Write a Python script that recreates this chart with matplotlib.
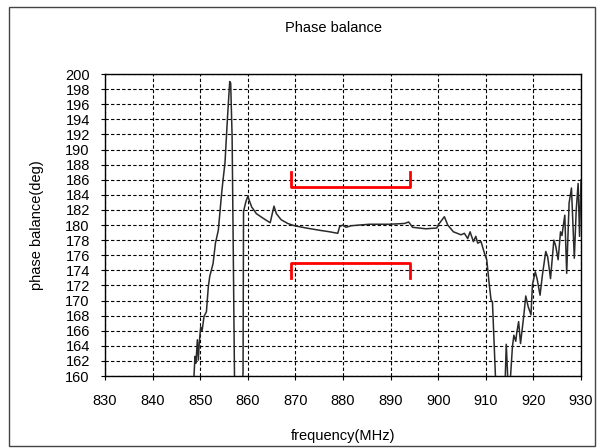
import matplotlib.pyplot as plt
from matplotlib.patches import Rectangle

plt.rcParams['font.family'] = ['Liberation Sans', 'DejaVu Sans']

freq = [848.3, 848.7, 848.9, 849.1, 849.4, 849.6, 849.8, 850.1, 850.4, 850.8,
        851.3, 851.7, 852.0, 852.7, 853.2, 853.8, 854.5, 854.8, 855.2, 855.7,
        856.0, 856.2, 856.4, 856.7, 856.9, 857.2, 857.6, 858.2, 858.8, 859.0,
        859.1, 859.6, 860.0, 860.8, 861.8, 863.2, 864.7, 865.5, 866.0, 867.0,
        868.4, 869.8, 872.3, 875.1, 877.2, 878.9, 879.3, 880.0, 880.6, 881.7,
        883.5, 885.6, 889.7, 892.9, 893.8, 894.6, 897.4, 899.7, 900.1, 901.3,
        902.0, 903.2, 904.8, 905.5, 906.2, 906.7, 907.4, 907.9, 908.3, 909.0,
        909.7, 910.2, 910.7, 911.1, 911.4, 912.0, 912.4, 912.8, 913.2, 913.6,
        914.0, 914.3, 914.7, 915.0, 915.6, 915.9, 916.3, 916.5, 916.9, 917.3,
        918.0, 918.4, 918.9, 919.5, 919.8, 920.4, 920.8, 921.4, 921.9, 922.6,
        923.0, 923.6, 924.3, 924.7, 925.2, 925.7, 926.0, 926.6, 927.0, 927.5,
        928.0, 928.6, 929.0, 929.4, 929.7, 930.0]
phase = [158.0, 160.1, 162.6, 161.7, 164.8, 162.1, 164.4, 166.5, 166.0, 167.9,
         168.5, 171.8, 173.2, 174.9, 177.6, 179.3, 184.2, 186.0, 188.2, 193.9,
         197.0, 199.0, 198.8, 191.7, 179.3, 160.0, 150.0, 150.0, 158.0, 160.5,
         181.8, 183.1, 183.8, 182.4, 181.5, 180.9, 180.3, 182.5, 181.5, 180.7,
         180.2, 179.9, 179.6, 179.3, 179.1, 178.9, 179.8, 180.0, 179.7, 179.9,
         180.0, 180.1, 180.1, 180.2, 180.4, 179.7, 179.5, 179.6, 180.1, 181.1,
         180.0, 179.1, 178.7, 178.9, 178.2, 179.1, 177.8, 178.5, 177.6, 177.8,
         176.3, 175.4, 172.3, 170.1, 169.8, 160.4, 155.0, 159.8, 155.0, 159.9,
         158.0, 164.2, 158.5, 158.0, 163.9, 165.4, 164.6, 165.7, 167.2, 164.3,
         168.1, 170.6, 169.2, 168.1, 172.1, 173.8, 172.8, 170.7, 173.4, 176.5,
         175.8, 172.9, 178.0, 177.2, 175.4, 179.1, 178.6, 181.3, 173.6, 182.9,
         184.9, 175.6, 182.0, 185.5, 178.5, 186.0]

# 규격선 (위/아래)
upper_x = [869, 869, 894, 894]
upper_y = [187, 185, 185, 187]
lower_x = [869, 869, 894, 894]
lower_y = [173, 175, 175, 173]

fig = plt.figure(figsize=(6.05, 4.48), dpi=100)
ax = fig.add_axes([0.1736, 0.1607, 0.7867, 0.6741])

ax.plot(freq, phase, color='#2a2a2a', linewidth=1.1, zorder=3)
ax.plot(upper_x, upper_y, color='red', linewidth=2.0, zorder=4)
ax.plot(lower_x, lower_y, color='red', linewidth=2.0, zorder=4)

ax.set_xlim(830, 930)
ax.set_ylim(160, 200)
ax.set_xticks(range(830, 931, 10))
ax.set_yticks(range(160, 201, 2))
ax.grid(True, color='black', linestyle=(0, (3, 2)), linewidth=0.8, zorder=1)
ax.tick_params(axis='both', labelsize=10.5, length=3, width=0.8)
ax.tick_params(axis='x', pad=10)
ax.tick_params(axis='y', pad=8)
for s in ax.spines.values():
    s.set_linewidth(1.0)

ax.set_title('Phase balance', fontsize=10.5, pad=30, x=0.479)
ax.set_xlabel('frequency(MHz)', fontsize=10.5, labelpad=15)
ax.set_ylabel('phase balance(deg)', fontsize=10.5, labelpad=15)

# 바깥 테두리
fig.patches.append(Rectangle((9 / 605, 2 / 448), 586 / 605, 439 / 448,
                             transform=fig.transFigure, fill=False,
                             edgecolor='#444444', linewidth=1.0))

plt.savefig('out.png', dpi=100)
